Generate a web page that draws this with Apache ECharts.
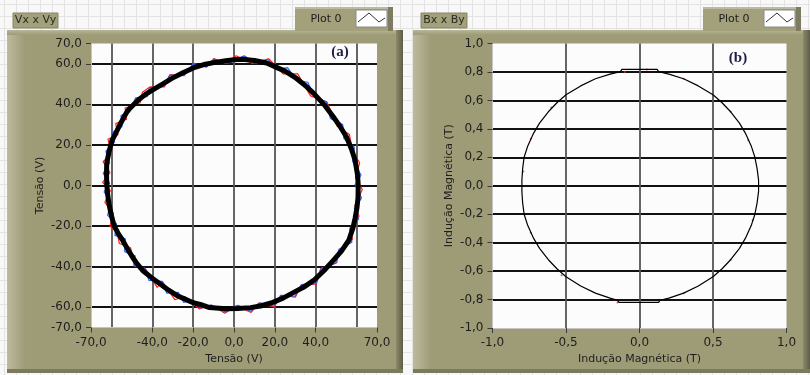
<!DOCTYPE html>
<html>
<head>
<meta charset="utf-8">
<script src="https://cdn.jsdelivr.net/npm/echarts@6.0.0/dist/echarts.min.js"></script>
<style>
  html, body { margin: 0; padding: 0; background: #f8f8f8; }
  #chart { width: 810px; height: 375px; }
</style>
</head>
<body>
<div id="chart"></div>
<script>
// ---- Painel (a): Vx x Vy (tensões) ----
const tensaoX = [0, 4, 10, 16, 20, 25, 30, 35, 39, 44, 48.5, 52, 55, 57.5, 59.3, 60.5, 60.8, 60.7, 60.2, 59.3, 58.2, 56.2, 52.5, 48.5, 44, 39, 34, 29, 24, 19, 13, 8, 2, -4, -12, -16.5, -20, -24, -28, -32, -36.3, -40.5, -44.6, -47.5, -49.5, -52, -54.4, -56.8, -58.8, -60.2, -61.3, -62, -62.3, -62.4, -62.3, -61.2, -59.8, -58.3, -56, -54, -52, -47, -43.5, -40.2, -35, -30.4, -25, -19.1, -14, -9.3, -4, 0];
const tensaoY = [62, 62.2, 61.6, 60.4, 58.6, 56.4, 53.2, 49.2, 45.4, 40, 34, 29, 24, 18, 12.3, 5, 0, -6, -11, -16, -21, -27, -32.5, -37, -42, -46.8, -50.2, -52.8, -55.5, -57.6, -59.4, -60.2, -60.6, -60.7, -60.2, -58.6, -57.8, -56, -54.2, -51.6, -48.4, -45.3, -42, -38.5, -35.6, -31.5, -27.2, -23.5, -19.5, -14, -8.5, -3, 1, 6, 11, 16.5, 22, 25, 29.6, 33.5, 37, 42, 44.8, 46.9, 50, 52.8, 55.6, 58.3, 59.8, 60.7, 61.5, 62];

// traço vermelho (com ruído)
const vermelhoX = [1, 9, 17, 24, 31.2, 37.5, 45.5, 50.5, 56.5, 58, 61.5, 59.5, 62.8, 59.1, 61.2, 56.8, 58, 51.1, 50.3, 42.4, 40.3, 32.9, 30.1, 22.8, 19.8, 12, 8.4, 1, -4.5, -11, -17, -24.2, -29, -35.1, -37.6, -43.5, -48.8, -50.6, -56.1, -57.3, -60.7, -59.1, -63.2, -60.5, -64.3, -60.7, -64.1, -59.7, -61.7, -56.8, -57.9, -52.6, -53.3, -45.9, -44.8, -41.2, -34.1, -31.3, -24.4, -19.8, -13.6, -9.8, -4, 1];
const vermelhoY = [64, 60.2, 62.5, 55, 55, 44.2, 41.2, 29.2, 25.2, 16.8, 11.2, 4, -2, -10, -15.2, -21.8, -26.5, -32.5, -38.1, -41, -48.6, -48.9, -55, -54.1, -59.8, -58, -62.6, -59.3, -63, -58.9, -60.8, -54.7, -56.3, -47.2, -50.2, -40.8, -39.8, -30.7, -28.6, -22.7, -20.1, -13.5, -8.3, -2.6, 1.6, 6.4, 11.7, 15.9, 22.8, 25.1, 30.5, 32.7, 38.2, 40.8, 46, 48.6, 48.6, 54.7, 54.1, 60.2, 58.3, 62.6, 60.1, 64];

// traço azul (com ruído)
const azulX = [-2, 5, 11, 16.6, 20.8, 26.2, 30.5, 36.1, 39.3, 45.2, 47.2, 53.2, 53.8, 58.9, 58.1, 62.2, 59.3, 62.4, 58.9, 61, 56.7, 57.7, 51.4, 49.8, 42.8, 40.2, 33.1, 29.8, 23.2, 19.6, 12.6, 8.2, 2, -4, -11.6, -16.3, -20.2, -24.6, -27.2, -32.9, -35.3, -41.6, -43.7, -48.8, -48.4, -53.5, -53.2, -58.3, -57.5, -61.9, -59.9, -63.6, -60.9, -64, -60.9, -62.7, -58.5, -59.9, -54.8, -55.3, -51, -48.2, -42.5, -41.4, -34.3, -31.5, -24.4, -20, -13.4, -9.8, -3.6, -2];
const azulY = [60.5, 63.9, 60, 62.2, 57.1, 58.1, 51.8, 50.9, 44, 41.2, 33.1, 30, 23.1, 18.9, 11.9, 5.2, 0.4, -6.2, -11.1, -16.6, -21, -28, -31.4, -38.3, -40.8, -48.3, -48.9, -54.6, -54.1, -59.4, -57.9, -62, -59.1, -62.4, -58.9, -60.4, -56.3, -57.7, -52.7, -53.1, -47.2, -46.8, -40.8, -39.6, -34.7, -32.6, -26.3, -24.6, -19, -14.6, -8.3, -3.2, 1.2, 6, 11.1, 16.9, 21.4, 25.9, 29.1, 34.5, 36.3, 43.2, 43.8, 48.2, 49.2, 54.3, 54.5, 59.8, 58.7, 62.2, 60.3, 60.5];

const ticksTensao = [-70, -60, -40, -20, 0, 20, 40, 60, 70];

// ---- Painel (b): Bx x By (indução magnética) ----
const inducaoX = [0, 0.12, 0.13, 0.2, 0.3, 0.4, 0.5, 0.56, 0.62, 0.68, 0.72, 0.76, 0.785, 0.8, 0.81, 0.81, 0.8, 0.785, 0.76, 0.72, 0.68, 0.62, 0.56, 0.5, 0.4, 0.3, 0.2, 0.14, 0.13, -0.14, -0.15, -0.2, -0.3, -0.4, -0.5, -0.56, -0.62, -0.68, -0.72, -0.76, -0.785, -0.795, -0.8, -0.8, -0.795, -0.785, -0.76, -0.72, -0.68, -0.62, -0.56, -0.5, -0.4, -0.3, -0.2, -0.13, -0.12, 0];
const inducaoY = [0.818, 0.818, 0.802, 0.785, 0.752, 0.702, 0.64, 0.585, 0.52, 0.44, 0.37, 0.28, 0.2, 0.12, 0.04, -0.04, -0.12, -0.2, -0.28, -0.37, -0.44, -0.52, -0.585, -0.64, -0.705, -0.755, -0.79, -0.805, -0.82, -0.82, -0.805, -0.79, -0.755, -0.705, -0.64, -0.585, -0.52, -0.44, -0.37, -0.28, -0.2, -0.12, -0.04, 0.04, 0.12, 0.2, 0.28, 0.37, 0.44, 0.52, 0.585, 0.64, 0.702, 0.752, 0.785, 0.802, 0.818, 0.818];
const ruidoBX = [-0.79, -0.74, -0.6, -0.1, 0.05, 0.3, 0.62, 0.74, 0.77, 0.62, 0.3, -0.15, -0.53, -0.74];
const ruidoBY = [0.1, 0.33, 0.55, 0.8, 0.818, 0.752, 0.52, 0.32, -0.24, -0.52, -0.755, -0.82, -0.63, -0.33];

const pares = (xs, ys) => xs.map((x, i) => [x, ys[i]]);
const virgula = (v, d) => (Math.abs(v) < 1e-9 ? 0 : v).toFixed(d).replace('.', ',');

const FONTE = '"DejaVu Sans", Tahoma, sans-serif';
const OLIVA = '#9e9b77';
const TEXTO = '#1e1e1e';

// ---- moldura estilo painel frontal ----
const fundo = [];
fundo.push({ type: 'rect', shape: { x: 0, y: 0, width: 810, height: 375 }, style: { fill: '#f8f8f8' }, z: -30 });
for (let x = 4; x < 810; x += 12) {
  fundo.push({ type: 'line', shape: { x1: x + 0.5, y1: 0, x2: x + 0.5, y2: 375 }, style: { stroke: '#e3e3e3', lineWidth: 1 }, z: -29 });
}
for (let y = 4; y < 375; y += 12) {
  fundo.push({ type: 'line', shape: { x1: 0, y1: y + 0.5, x2: 810, y2: y + 0.5 }, style: { stroke: '#e3e3e3', lineWidth: 1 }, z: -29 });
}

function painel(x, w) {
  const y = 30, h = 343;
  return [
    { type: 'rect', shape: { x, y, width: w, height: h }, style: { fill: OLIVA }, z: -20 },
    { type: 'rect', shape: { x, y, width: 18, height: h }, style: { fill: new echarts.graphic.LinearGradient(0, 0, 1, 0, [{ offset: 0, color: '#bdbb9e' }, { offset: 1, color: OLIVA }]) }, z: -19 },
    { type: 'rect', shape: { x, y, width: w, height: 5 }, style: { fill: new echarts.graphic.LinearGradient(0, 0, 0, 1, [{ offset: 0, color: '#b8b698' }, { offset: 1, color: OLIVA }]) }, z: -19 },
    { type: 'rect', shape: { x: x + w - 7, y, width: 7, height: h }, style: { fill: new echarts.graphic.LinearGradient(0, 0, 1, 0, [{ offset: 0, color: '#8c8a69' }, { offset: 1, color: '#5e5c47' }]) }, z: -19 },
    { type: 'rect', shape: { x, y: y + h - 4, width: w, height: 4 }, style: { fill: '#7b7a5d' }, z: -19 }
  ];
}

function rotulo(x, w, texto) {
  return [
    { type: 'rect', shape: { x, y: 13, width: w, height: 15 }, style: { fill: '#a3a07c', stroke: '#87856a', lineWidth: 1 }, z: -10 },
    { type: 'text', x: x + w / 2, y: 20.5, style: { text: texto, font: '11px ' + FONTE, fill: '#2a2a22', textAlign: 'center', textVerticalAlign: 'middle' }, z: -9 }
  ];
}

function legenda(x) {
  return [
    { type: 'rect', shape: { x, y: 7, width: 94, height: 24 }, style: { fill: '#a3a07c' }, z: -10 },
    { type: 'rect', shape: { x, y: 7, width: 94, height: 2 }, style: { fill: '#bdbb9f' }, z: -9 },
    { type: 'rect', shape: { x: x + 93, y: 7, width: 5, height: 24 }, style: { fill: '#7e7c60' }, z: -9 },
    { type: 'text', x: x + 31, y: 19, style: { text: 'Plot 0', font: '11px ' + FONTE, fill: '#1e1e1a', textAlign: 'center', textVerticalAlign: 'middle' }, z: -8 },
    { type: 'rect', shape: { x: x + 61, y: 10, width: 31, height: 17 }, style: { fill: '#ffffff', stroke: '#8a8a8a', lineWidth: 1 }, z: -8 },
    { type: 'polyline', shape: { points: [[x + 63, 22], [x + 74, 13], [x + 84, 22], [x + 90, 18]] }, style: { stroke: '#333', lineWidth: 1, fill: null }, z: -7 }
  ];
}

const moldura = [].concat(
  fundo,
  painel(7, 396), painel(413, 397),
  rotulo(13, 45, 'Vx x Vy'), rotulo(421, 46, 'Bx x By'),
  legenda(295), legenda(703),
  [
    { type: 'text', x: 340, y: 52.5, style: { text: '(a)', font: 'bold 15px "Liberation Serif", "DejaVu Serif", serif', fill: '#1d1d45', textAlign: 'center', textVerticalAlign: 'middle' }, z: 50 },
    { type: 'text', x: 738, y: 58, style: { text: '(b)', font: 'bold 15px "Liberation Serif", "DejaVu Serif", serif', fill: '#1d1d45', textAlign: 'center', textVerticalAlign: 'middle' }, z: 50 }
  ]
);

function eixo(opts) {
  const base = {
    type: 'value',
    gridIndex: opts.grid,
    min: opts.min,
    max: opts.max,
    name: opts.name,
    nameLocation: 'middle',
    nameGap: opts.nameGap,
    nameTextStyle: { fontFamily: FONTE, fontSize: 11, color: TEXTO },
    axisLine: { show: true, onZero: false, lineStyle: { color: '#c4c4c4', width: 1 } },
    axisTick: { show: true, length: 5, lineStyle: { color: '#3a3a3a', width: 1 } },
    axisLabel: { color: TEXTO, fontFamily: FONTE, fontSize: 12, margin: 9, formatter: v => virgula(v, opts.dec), showMinLabel: true, showMaxLabel: true, hideOverlap: false },
    splitLine: { show: true, showMinLine: false, showMaxLine: false, lineStyle: { color: opts.gridColor, width: 1.8 } }
  };
  if (opts.interval) base.interval = opts.interval;
  if (opts.custom) {
    base.axisTick.customValues = opts.custom;
    base.axisLabel.customValues = opts.custom;
  }
  return base;
}

const option = {
  animation: false,
  backgroundColor: 'transparent',
  graphic: { elements: moldura },
  grid: [
    { left: 91, top: 43.5, width: 286, height: 284, show: true, backgroundColor: '#fcfcfc', borderWidth: 0, containLabel: false },
    { left: 492.5, top: 43.5, width: 294, height: 284.5, show: true, backgroundColor: '#fcfcfc', borderWidth: 0, containLabel: false }
  ],
  xAxis: [
    eixo({ grid: 0, min: -70, max: 70, custom: ticksTensao, dec: 1, name: 'Tensão (V)', nameGap: 25, gridColor: '#555555' }),
    eixo({ grid: 1, min: -1, max: 1, interval: 0.5, dec: 1, name: 'Indução Magnética (T)', nameGap: 25, gridColor: '#555555' })
  ],
  yAxis: [
    eixo({ grid: 0, min: -70, max: 70, custom: ticksTensao, dec: 1, name: 'Tensão (V)', nameGap: 45, gridColor: '#111111' }),
    eixo({ grid: 1, min: -1, max: 1, interval: 0.2, dec: 1, name: 'Indução Magnética (T)', nameGap: 38, gridColor: '#111111' })
  ],
  series: [
    { type: 'line', xAxisIndex: 0, yAxisIndex: 0, data: pares(vermelhoX, vermelhoY), showSymbol: false, lineStyle: { color: '#ff1c1c', width: 1.2 }, z: 3 },
    { type: 'line', xAxisIndex: 0, yAxisIndex: 0, data: pares(azulX, azulY), showSymbol: false, lineStyle: { color: '#2a5cff', width: 1.2 }, z: 3 },
    { type: 'line', xAxisIndex: 0, yAxisIndex: 0, data: pares(tensaoX, tensaoY), showSymbol: false, lineStyle: { color: '#000000', width: 5, join: 'round', cap: 'round' }, z: 4 },
    { type: 'scatter', xAxisIndex: 1, yAxisIndex: 1, data: pares(ruidoBX, ruidoBY), symbolSize: 2, itemStyle: { color: '#ff2020' }, z: 3 },
    { type: 'line', xAxisIndex: 1, yAxisIndex: 1, data: pares(inducaoX, inducaoY), showSymbol: false, lineStyle: { color: '#000000', width: 1.2 }, z: 4 }
  ]
};

const chart = echarts.init(document.getElementById('chart'), null, { renderer: 'canvas' });
chart.setOption(option);
</script>
</body>
</html>
